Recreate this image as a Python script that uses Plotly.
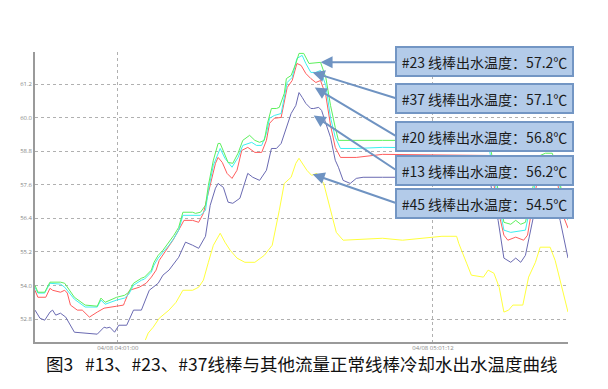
import plotly.graph_objects as go

# time in minutes relative to 04/08 04:01:00, values in °C
green_t = [-15.75, -15.2, -13.9, -12.9, -10.9, -10.1, -8.25, -6.2, -3.9, -3.2, -2.4, -0.2, 1.3, 2.1, 3.0, 4.5, 5.1, 6.4, 6.9, 7.7, 8.6, 9.75, 10.7, 11.6, 12.4, 14.25, 14.8, 15.75, 16.7, 17.25, 18.2, 19.1, 19.5, 21.0, 21.9, 22.9, 23.8, 25.1, 26.1, 27.0, 27.9, 28.5, 29.25, 30.2, 30.75, 31.7, 32.1, 33.0, 33.9, 34.5, 35.4, 36.4, 38.6, 39.6, 40.5, 41.4, 42.0, 50.4, 57.9, 65.4, 70.7, 72.4, 73.5, 74.8, 75.75, 76.7, 77.6, 79.1, 80.4, 81.4, 82.7, 83.8, 84.75, 85.7]
green_v = [54.01, 53.76, 53.76, 54.12, 54.12, 54.08, 53.58, 53.30, 53.26, 53.55, 53.40, 53.58, 53.65, 53.76, 54.08, 54.26, 54.30, 54.55, 54.83, 55.08, 55.26, 55.55, 55.80, 56.08, 56.62, 56.62, 56.58, 56.62, 56.87, 57.58, 58.48, 59.08, 59.08, 58.40, 58.37, 58.73, 59.19, 59.37, 59.19, 59.12, 59.19, 59.80, 60.33, 60.33, 60.37, 60.87, 61.40, 61.51, 61.94, 62.30, 62.30, 61.94, 61.98, 61.44, 60.44, 59.65, 59.19, 59.19, 59.19, 59.15, 59.19, 57.40, 56.26, 56.19, 56.33, 56.19, 56.26, 57.58, 58.65, 58.73, 58.73, 58.12, 57.05, 56.51]

cyan_t = [-15.75, -15.2, -13.9, -12.9, -10.9, -10.1, -8.25, -6.2, -3.9, -3.2, -2.4, -0.2, 1.3, 2.1, 3.0, 4.5, 5.1, 6.4, 6.9, 7.7, 8.6, 9.75, 10.7, 11.6, 12.4, 14.25, 15.75, 16.7, 17.25, 18.2, 18.9, 19.5, 20.4, 21.75, 22.9, 23.8, 25.5, 26.4, 27.4, 28.3, 28.9, 29.8, 31.1, 31.7, 32.25, 33.2, 34.1, 35.1, 35.8, 36.75, 37.7, 38.6, 39.6, 40.5, 41.4, 42.4, 45.4, 50.4, 70.7, 72.4, 73.5, 74.8, 76.7, 77.6, 79.1, 80.4, 82.7, 83.8, 84.75, 85.7]
cyan_v = [53.94, 53.73, 53.73, 54.08, 54.05, 53.94, 53.51, 53.23, 53.23, 53.48, 53.33, 53.48, 53.55, 53.69, 54.01, 54.19, 54.23, 54.48, 54.73, 54.98, 55.19, 55.44, 55.69, 55.98, 56.51, 56.51, 56.51, 56.69, 57.40, 58.30, 58.65, 58.90, 58.55, 58.23, 58.58, 59.01, 59.12, 59.01, 59.01, 59.44, 59.98, 60.08, 60.15, 60.73, 61.26, 61.44, 62.12, 62.23, 61.94, 61.62, 61.62, 61.69, 61.15, 60.01, 59.30, 58.90, 58.90, 58.94, 58.90, 57.05, 55.98, 55.90, 55.94, 55.98, 57.33, 58.48, 58.55, 57.94, 56.87, 56.33]

red_t = [-15.75, -15.2, -13.7, -12.9, -12.4, -10.9, -10.1, -9.6, -9.0, -7.7, -6.75, -5.4, -3.9, -2.6, -0.2, 1.1, 1.3, 2.25, 4.1, 5.4, 6.4, 7.3, 7.9, 9.2, 10.5, 11.6, 12.6, 14.25, 15.4, 16.3, 17.25, 18.0, 18.6, 19.1, 19.9, 20.8, 21.75, 22.7, 23.6, 24.75, 26.1, 27.4, 28.3, 28.9, 29.8, 31.1, 31.7, 32.25, 33.2, 34.1, 34.9, 35.8, 36.75, 37.7, 38.6, 39.6, 40.5, 41.4, 42.4, 45.4, 50.4, 70.7, 72.4, 73.5, 74.25, 75.75, 77.25, 78.0, 79.1, 80.4, 82.7, 83.8, 84.75, 85.7]
red_v = [53.83, 53.58, 53.58, 53.90, 53.83, 53.76, 53.83, 53.73, 53.30, 53.12, 53.12, 52.87, 53.05, 53.19, 53.26, 53.30, 53.40, 53.83, 53.94, 54.08, 54.30, 54.55, 54.90, 55.26, 55.62, 55.98, 56.33, 56.33, 56.26, 56.58, 57.33, 57.94, 58.37, 58.58, 58.40, 58.01, 57.83, 58.12, 58.83, 58.94, 58.76, 58.76, 59.19, 59.80, 59.98, 60.01, 60.55, 61.08, 61.33, 61.94, 61.87, 61.58, 61.40, 61.26, 61.33, 60.80, 59.73, 58.94, 58.58, 58.58, 58.69, 58.65, 56.69, 55.80, 55.62, 55.73, 55.62, 55.80, 57.05, 58.19, 58.30, 57.58, 56.51, 56.05]

navy_t = [-15.75, -14.8, -13.9, -12.9, -12.4, -11.8, -10.9, -9.9, -8.25, -6.75, -3.9, -2.6, -2.1, -1.5, -0.6, 0.2, 1.7, 3.0, 4.5, 6.0, 7.7, 8.6, 9.75, 11.6, 12.9, 14.25, 15.4, 16.7, 17.6, 18.6, 19.1, 20.1, 21.0, 21.9, 23.25, 24.75, 25.7, 27.0, 28.3, 29.25, 30.2, 31.1, 32.1, 33.0, 33.9, 34.5, 35.1, 35.8, 36.75, 37.3, 38.25, 38.8, 39.6, 40.5, 41.4, 42.0, 42.9, 44.25, 45.4, 46.7, 50.4, 70.7, 72.4, 73.5, 74.8, 75.75, 76.7, 77.6, 79.1, 80.4, 82.7, 84.2, 85.7]
navy_v = [53.12, 52.83, 52.76, 53.05, 53.12, 52.94, 53.01, 52.87, 52.33, 52.30, 52.26, 52.51, 52.48, 52.51, 52.33, 52.58, 52.58, 53.12, 53.12, 53.83, 54.08, 54.37, 54.55, 55.01, 55.55, 55.44, 55.33, 55.76, 56.87, 57.48, 57.65, 57.51, 56.98, 56.94, 57.12, 58.01, 57.87, 57.76, 58.12, 58.90, 58.90, 59.08, 59.65, 60.15, 60.44, 60.90, 60.73, 60.51, 60.33, 60.33, 60.37, 60.26, 59.80, 59.30, 58.48, 58.23, 57.76, 57.65, 57.83, 57.87, 57.87, 57.87, 56.33, 54.98, 54.83, 54.98, 54.83, 55.08, 56.44, 57.40, 57.40, 56.33, 54.98]

yellow_t = [5.25, 5.8, 6.75, 7.9, 9.75, 11.1, 12.4, 14.25, 15.4, 16.3, 17.25, 18.2, 19.5, 20.4, 21.4, 22.7, 24.2, 26.1, 27.9, 29.4, 30.75, 31.7, 33.0, 33.9, 34.5, 35.1, 36.0, 36.9, 37.9, 39.2, 40.5, 41.6, 42.9, 46.7, 50.4, 54.2, 57.9, 61.7, 64.5, 64.9, 66.4, 67.3, 69.6, 70.5, 71.6, 72.6, 73.5, 74.4, 75.2, 77.1, 78.2, 79.5, 80.4, 82.3, 83.25, 84.75, 85.7]
yellow_v = [52.05, 52.30, 52.51, 52.83, 53.12, 53.40, 53.83, 53.83, 53.94, 54.19, 54.83, 55.44, 55.87, 55.55, 55.26, 54.98, 54.83, 54.83, 55.08, 55.44, 56.69, 57.65, 57.87, 58.37, 58.55, 58.37, 58.12, 57.94, 58.01, 57.65, 56.69, 55.90, 55.62, 55.66, 55.69, 55.62, 55.69, 55.76, 55.76, 55.51, 54.80, 54.37, 54.30, 54.55, 54.44, 53.94, 53.05, 53.12, 53.30, 53.30, 54.30, 54.83, 55.37, 55.37, 54.90, 53.83, 53.05]

y_ticks = [52.8, 54.0, 55.2, 56.4, 57.6, 58.8, 60.0, 61.2]
x_ticks = [0, 60]
x_tick_labels = ["04/08 04:01:00", "04/08 05:01:12"]

callout_texts = ["#23 线棒出水温度：57.2℃", "#37 线棒出水温度：57.1℃", "#20 线棒出水温度：56.8℃",
                 "#13 线棒出水温度：56.2℃", "#45 线棒出水温度：54.5℃"]
callout_tips_t = [38.6, 37.1, 37.5, 37.3, 37.1]
callout_tips_v = [61.98, 61.62, 61.08, 60.08, 57.98]
caption = "图3   #13、#23、#37线棒与其他流量正常线棒冷却水出水温度曲线"

fig = go.Figure()
series = [
    ("#45", yellow_t, yellow_v, "#ffff3c"),
    ("#13", navy_t, navy_v, "#6a6ab2"),
    ("#20", red_t, red_v, "#ff5c5c"),
    ("#37", cyan_t, cyan_v, "#3cf0f0"),
    ("#23", green_t, green_v, "#5cf05c"),
]
for name, t, v, c in series:
    fig.add_trace(go.Scatter(x=t, y=v, mode="lines", name=name,
                             line=dict(color=c, width=1), showlegend=False))

# page body has an 8px margin, so the figure is drawn offset by (8, 8)
off = 8
fig_w, fig_h = 608 - off, 389 - off
plot_l, plot_t, plot_w, plot_h = 27 - off, 52 - off, 541, 290

box_mid_px = [62, 98, 136, 170, 203]
tip_px_x = [317, 309, 311, 310, 309]
tip_px_y = [62, 72, 87, 115, 174]
annotations = []
for i in range(5):
    annotations.append(dict(
        x=callout_tips_t[i], y=callout_tips_v[i], xref="x", yref="y",
        ax=393 - tip_px_x[i], ay=box_mid_px[i] - tip_px_y[i],
        text="", showarrow=True, arrowhead=2, arrowsize=1.2, arrowwidth=2,
        arrowcolor="#6f93c2"))

for i in range(5):
    annotations.append(dict(
        x=(483.5 - 27) / plot_w, y=(52 + plot_h - box_mid_px[i]) / plot_h,
        xref="paper", yref="paper", xanchor="center", yanchor="middle",
        text=callout_texts[i], showarrow=False, width=173, height=25,
        align="center", bgcolor="#b3cbe9", bordercolor="#7396c4",
        borderwidth=2, borderpad=1,
        font=dict(family="Noto Sans CJK SC", size=14, color="#1b1b1b")))

annotations.append(dict(
    x=(298 - 27) / plot_w, y=(52 + plot_h - 363) / plot_h,
    xref="paper", yref="paper", xanchor="center", yanchor="middle",
    text=caption, showarrow=False,
    font=dict(family="Noto Sans CJK SC", size=17.5, color="#111111")))

fig.update_layout(
    width=fig_w, height=fig_h,
    margin=dict(l=plot_l, r=fig_w - plot_l - plot_w, t=plot_t, b=fig_h - plot_t - plot_h),
    paper_bgcolor="white", plot_bgcolor="white",
    annotations=annotations,
    xaxis=dict(range=[-15.75, 85.7], tickvals=x_ticks, ticktext=x_tick_labels,
               showgrid=True, gridcolor="#b0b0b0", griddash="dot", gridwidth=1,
               showline=True, linecolor="#9a9a9a", linewidth=1.5,
               zeroline=False, ticks="", ticklabelstandoff=-1,
               tickfont=dict(size=6, color="#888888")),
    yaxis=dict(range=[51.98, 62.35], tickvals=y_ticks,
               ticktext=["%.1f" % v for v in y_ticks],
               showgrid=True, gridcolor="#b0b0b0", griddash="dot", gridwidth=1,
               showline=True, linecolor="#9a9a9a", linewidth=1.5,
               zeroline=False, ticks="", tickfont=dict(size=6, color="#888888")),
)

fig.write_html("out.html")
